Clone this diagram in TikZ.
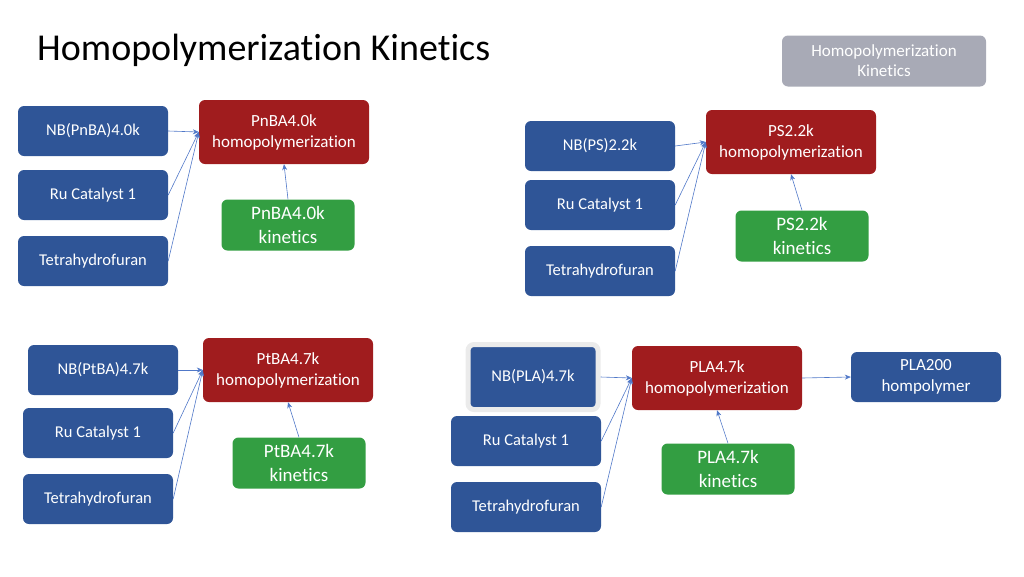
\documentclass[tikz,border=0pt]{standalone}
\usepackage{fontspec}
\setmainfont{Carlito}[Ligatures={NoCommon}]
\usetikzlibrary{arrows.meta,positioning}

\definecolor{inblue}{RGB}{47,85,151}
\definecolor{polred}{RGB}{160,28,30}
\definecolor{kingreen}{RGB}{51,158,66}
\definecolor{hdgray}{RGB}{168,170,182}
\definecolor{arblue}{RGB}{80,120,200}

\begin{document}
\begin{tikzpicture}
[x=1pt,y=-1pt,
 inbox/.style={rectangle,rounded corners=6pt,fill=inblue,text=white,minimum width=150pt,minimum height=50pt,font=\fontsize{16.5}{21}\selectfont},
 polybox/.style={rectangle,rounded corners=6pt,fill=polred,text=white,minimum width=170pt,minimum height=64pt,align=center,font=\fontsize{17}{21}\selectfont},
 kinbox/.style={rectangle,rounded corners=6pt,fill=kingreen,text=white,minimum width=133pt,minimum height=51pt,align=center,font=\fontsize{19}{24}\selectfont},
 feed/.style={draw=arblue,line width=0.6pt,-{Stealth[length=6pt,width=5pt]}}]

\useasboundingbox (0,0) rectangle (1024,576);

\node[anchor=base west,inner sep=0pt,font=\fontsize{38}{44}\selectfont] (title) at (37,60) {Homopolymerization Kinetics};
\node[rectangle,rounded corners=6pt,fill=hdgray,text=white,minimum width=204pt,minimum height=51pt,align=center,font=\fontsize{17}{20}\selectfont] (hd) at (884,61) {Homopolymerization\\Kinetics};

% PnBA
\node[inbox] (nb1) at (93,131) {NB(PnBA)4.0k};
\node[inbox] (ru1) at (93,195) {Ru Catalyst 1};
\node[inbox] (thf1) at (93,261) {Tetrahydrofuran};
\node[polybox] (hp1) at (284,132) {PnBA4.0k\\homopolymerization};
\node[kinbox] (k1) at (288,225) {PnBA4.0k\\kinetics};

\draw[feed] (nb1.east) -- (hp1.west);
\draw[feed] (ru1.east) -- (hp1.west);
\draw[feed] (thf1.east) -- (hp1.west);
\draw[feed] (k1.north) -- (hp1.south);

% PS
\node[inbox] (nb2) at (600,146) {NB(PS)2.2k};
\node[inbox] (ru2) at (600,205) {Ru Catalyst 1};
\node[inbox] (thf2) at (600,271) {Tetrahydrofuran};
\node[polybox] (hp2) at (791,142) {PS2.2k\\homopolymerization};
\node[kinbox] (k2) at (802,236) {PS2.2k\\kinetics};

\draw[feed] (nb2.east) -- (hp2.west);
\draw[feed] (ru2.east) -- (hp2.west);
\draw[feed] (thf2.east) -- (hp2.west);
\draw[feed] (k2.north) -- (hp2.south);

% PtBA
\node[inbox] (nb3) at (103,370) {NB(PtBA)4.7k};
\node[inbox] (ru3) at (98,433) {Ru Catalyst 1};
\node[inbox] (thf3) at (98,499) {Tetrahydrofuran};
\node[polybox] (hp3) at (288,370) {PtBA4.7k\\homopolymerization};
\node[kinbox] (k3) at (299,463) {PtBA4.7k\\kinetics};

\draw[feed] (nb3.east) -- (hp3.west);
\draw[feed] (ru3.east) -- (hp3.west);
\draw[feed] (thf3.east) -- (hp3.west);
\draw[feed] (k3.north) -- (hp3.south);

% PLA
\node[inbox,minimum width=130pt,minimum height=65pt,draw=black!8,line width=5pt] (nb4) at (533,377) {NB(PLA)4.7k};
\node[inbox] (ru4) at (526,441) {Ru Catalyst 1};
\node[inbox] (thf4) at (526,507) {Tetrahydrofuran};
\node[polybox] (hp4) at (717,378) {PLA4.7k\\homopolymerization};
\node[kinbox] (k4) at (728,469) {PLA4.7k\\kinetics};
\node[inbox,align=center,font=\fontsize{17}{21}\selectfont] (pla) at (926,377) {PLA200\\hompolymer};

\draw[feed] (nb4.east) -- (hp4.west);
\draw[feed] (ru4.east) -- (hp4.west);
\draw[feed] (thf4.east) -- (hp4.west);
\draw[feed] (k4.north) -- (hp4.south);
\draw[feed] (hp4.east) -- (pla.west);
\end{tikzpicture}
\end{document}
